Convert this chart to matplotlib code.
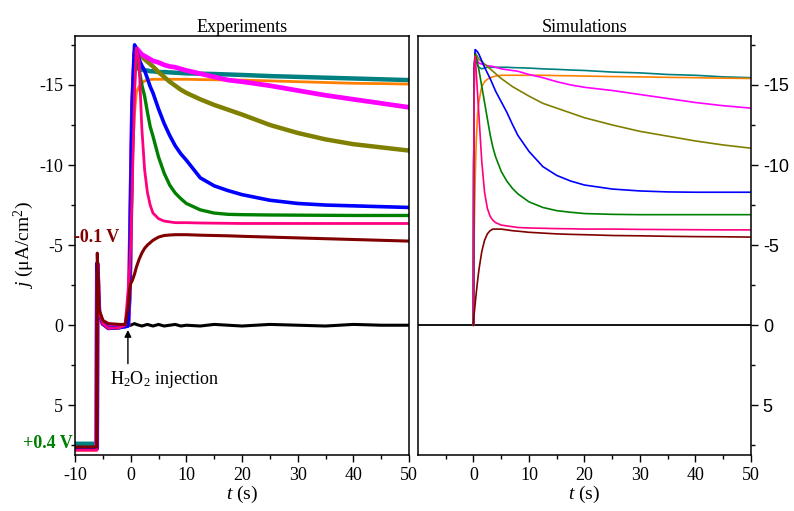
import matplotlib
matplotlib.use("Agg")
import matplotlib.pyplot as plt
from matplotlib.ticker import MultipleLocator, FixedLocator

plt.rcParams['font.family'] = 'Liberation Serif'
plt.rcParams['axes.unicode_minus'] = False
plt.rcParams['mathtext.fontset'] = 'custom'
plt.rcParams['mathtext.rm'] = 'Liberation Serif'
plt.rcParams['mathtext.it'] = 'Liberation Serif:italic'

# Experimentos (tiempo en s, j en uA/cm2)
t_exp = [-10, -6.1, -6.0, -5.7, -5.0, -4.0, -2.0, -1.0, -0.5, -0.2, 0.0, 0.3, 0.7, 1.0, 1.5,
         2, 2.5, 3, 3.5, 4, 5, 6, 7, 8, 9, 10, 12.5, 15, 17.5, 20, 25, 30, 35, 40, 45, 50]
exp_black = [7.7, 7.7, -3.8, -0.8, -0.1, 0.1, 0.05, 0.0, 0.0, 0.0, 0.0, -0.05, -0.1, -0.05, 0.0,
             0.05, 0.0, -0.05, 0.0, 0.05, -0.05, 0.05, 0.0, -0.05, 0.05, 0.0, 0.05, -0.05, 0.0,
             0.05, -0.05, 0.0, 0.05, -0.05, 0.0, 0.0]
exp_teal = [7.4, 7.4, -3.8, -0.8, -0.1, 0.1, 0.05, 0.0, 0.0, -2.0, -6.0, -12.5, -16.3, -16.1,
            -16.0, -15.95, -15.9, -15.9, -15.85, -15.85, -15.8, -15.8, -15.78, -15.76, -15.74,
            -15.72, -15.7, -15.68, -15.65, -15.62, -15.55, -15.5, -15.45, -15.4, -15.35, -15.3]
exp_orange = [7.8, 7.8, -3.8, -0.8, -0.1, 0.1, 0.05, 0.0, 0.0, -2.0, -5.5, -10.5, -13.3, -14.5,
              -14.9, -15.1, -15.25, -15.3, -15.33, -15.35, -15.35, -15.35, -15.35, -15.35, -15.35,
              -15.35, -15.33, -15.32, -15.3, -15.3, -15.25, -15.2, -15.15, -15.1, -15.08, -15.05]
exp_olive = [7.7, 7.7, -3.8, -0.8, -0.1, 0.15, 0.1, 0.0, 0.0, -2.5, -7.0, -13.5, -16.8, -17.0,
             -16.9, -16.75, -16.6, -16.45, -16.3, -16.15, -15.8, -15.5, -15.2, -14.95, -14.7,
             -14.5, -14.1, -13.75, -13.45, -13.15, -12.5, -12.0, -11.6, -11.3, -11.1, -10.9]
exp_magenta = [7.7, 7.7, -3.8, -0.8, -0.1, 0.15, 0.1, 0.0, 0.0, -2.5, -7.0, -13.5, -17.0, -17.3,
               -17.1, -16.9, -16.8, -16.7, -16.6, -16.5, -16.4, -16.25, -16.15, -16.1, -16.0,
               -15.9, -15.7, -15.5, -15.3, -15.2, -14.95, -14.65, -14.35, -14.1, -13.85, -13.6]
exp_green = [7.7, 7.7, -3.8, -0.8, -0.1, 0.2, 0.15, 0.05, 0.0, -2.5, -7.0, -13.5, -17.0, -16.8,
             -16.0, -15.0, -14.3, -13.3, -12.4, -11.8, -10.5, -9.5, -8.75, -8.25, -7.9, -7.6,
             -7.2, -7.0, -6.92, -6.9, -6.88, -6.87, -6.86, -6.85, -6.85, -6.85]
exp_blue = [7.7, 7.7, -3.9, -0.8, -0.1, 0.2, 0.15, 0.1, 0.05, -2.5, -7.5, -14.0, -17.5, -17.2,
            -16.6, -16.2, -15.9, -15.4, -14.9, -14.5, -13.5, -12.6, -11.85, -11.2, -10.7, -10.3,
            -9.2, -8.7, -8.4, -8.15, -7.8, -7.6, -7.5, -7.45, -7.4, -7.35]
exp_pink = [7.8, 7.8, -3.8, -0.8, -0.1, 0.2, 0.15, 0.0, -2.0, -3.5, -5.0, -9.0, -14.5, -17.3,
            -16.5, -12.3, -9.7, -8.3, -7.5, -7.0, -6.65, -6.5, -6.45, -6.4, -6.4, -6.4, -6.38,
            -6.37, -6.36, -6.35, -6.35, -6.35, -6.35, -6.35, -6.35, -6.35]
exp_darkred = [7.6, 7.6, -4.5, -1.0, -0.3, -0.1, -0.05, -0.05, -1.0, -2.2, -2.6, -2.8, -3.2,
               -3.6, -4.1, -4.5, -4.8, -5.0, -5.15, -5.3, -5.5, -5.6, -5.63, -5.65, -5.65, -5.65,
               -5.62, -5.6, -5.58, -5.55, -5.5, -5.45, -5.4, -5.35, -5.3, -5.25]

# Simulaciones
t_sim = [0, 0.05, 0.15, 0.3, 0.5, 0.75, 1, 1.5, 2, 2.5, 3, 3.5, 4, 5, 6, 7, 8, 10, 12.5, 15,
         17.5, 20, 25, 30, 35, 40, 45, 50]
sim_teal = [0, -10, -16, -16.8, -16.5, -16.2, -16.1, -16.0, -16.05, -16.1, -16.1, -16.1, -16.1,
            -16.1, -16.1, -16.08, -16.07, -16.05, -16.0, -15.97, -15.93, -15.9, -15.8, -15.75,
            -15.65, -15.6, -15.5, -15.45]
sim_orange = [0, -2.5, -6.0, -9.0, -11.5, -13.2, -14.0, -14.9, -15.2, -15.35, -15.45, -15.5,
              -15.55, -15.6, -15.6, -15.6, -15.6, -15.6, -15.6, -15.58, -15.57, -15.55, -15.52,
              -15.5, -15.47, -15.45, -15.42, -15.4]
sim_magenta = [0, -10, -16, -16.9, -16.7, -16.5, -16.35, -16.3, -16.25, -16.2, -16.17, -16.15,
               -16.1, -16.0, -15.95, -15.9, -15.85, -15.65, -15.45, -15.2, -15.0, -14.85, -14.65,
               -14.4, -14.15, -13.9, -13.7, -13.55]
sim_olive = [0, -10, -16, -17.0, -16.9, -16.75, -16.6, -16.45, -16.3, -16.15, -16.0, -15.85,
             -15.7, -15.4, -15.15, -14.9, -14.7, -14.3, -13.85, -13.55, -13.25, -12.95, -12.5,
             -12.1, -11.8, -11.5, -11.25, -11.05]
sim_blue = [0, -10, -16, -17.2, -17.15, -17.05, -16.9, -16.5, -16.1, -15.75, -15.4, -15.0, -14.6,
            -13.95, -13.3, -12.55, -11.85, -10.85, -9.9, -9.35, -9.0, -8.75, -8.5, -8.38, -8.32,
            -8.3, -8.3, -8.3]
sim_green = [0, -10, -16, -16.9, -16.7, -16.3, -15.9, -14.9, -13.9, -12.9, -11.9, -11.1, -10.5,
             -9.6, -9.0, -8.55, -8.2, -7.7, -7.35, -7.15, -7.05, -6.97, -6.92, -6.9, -6.9, -6.9,
             -6.9, -6.9]
sim_pink = [0, -10, -16, -16.8, -15.8, -14.4, -13.0, -10.2, -8.3, -7.3, -6.8, -6.55, -6.4, -6.25,
            -6.2, -6.15, -6.1, -6.07, -6.05, -6.03, -6.02, -6.0, -6.0, -5.98, -5.97, -5.96,
            -5.95, -5.95]
sim_darkred = [0, -0.4, -0.8, -1.3, -2.0, -2.8, -3.5, -4.6, -5.3, -5.7, -5.9, -6.0, -6.0, -6.0,
               -5.95, -5.9, -5.87, -5.8, -5.75, -5.7, -5.67, -5.65, -5.6, -5.58, -5.55, -5.53,
               -5.52, -5.5]
t_zero = [-10, 50]
sim_zero = [0, 0]

# Colores
c_teal, c_orange, c_magenta, c_olive = '#008080', '#FF8000', '#FF00FF', '#808000'
c_blue, c_green, c_pink, c_darkred = '#0000FF', '#008000', '#FF0080', '#800000'

fig = plt.figure(figsize=(7.94, 5.11), dpi=100)
ax1 = fig.add_axes([0.0945, 0.1096, 0.4206, 0.8199])
ax2 = fig.add_axes([0.5264, 0.1096, 0.4194, 0.8199])

# Panel experimentos
ax1.plot(t_exp, exp_black, color='black', lw=2.2)
ax1.plot(t_exp, exp_teal, color=c_teal, lw=3.2)
ax1.plot(t_exp, exp_orange, color=c_orange, lw=2.0)
ax1.plot(t_exp, exp_olive, color=c_olive, lw=3.2)
ax1.plot(t_exp, exp_magenta, color=c_magenta, lw=3.4)
ax1.plot(t_exp, exp_green, color=c_green, lw=2.4)
ax1.plot(t_exp, exp_blue, color=c_blue, lw=2.6)
ax1.plot(t_exp, exp_pink, color=c_pink, lw=2.0)
ax1.plot(t_exp, exp_darkred, color=c_darkred, lw=2.2)

# Panel simulaciones
ax2.plot(t_zero, sim_zero, color='black', lw=1.3)
ax2.plot(t_sim, sim_teal, color=c_teal, lw=1.2)
ax2.plot(t_sim, sim_orange, color=c_orange, lw=1.2)
ax2.plot(t_sim, sim_magenta, color=c_magenta, lw=1.2)
ax2.plot(t_sim, sim_olive, color=c_olive, lw=1.2)
ax2.plot(t_sim, sim_blue, color=c_blue, lw=1.2)
ax2.plot(t_sim, sim_green, color=c_green, lw=1.2)
ax2.plot(t_sim, sim_pink, color=c_pink, lw=1.2)
ax2.plot(t_sim, sim_darkred, color=c_darkred, lw=1.2)

for ax in (ax1, ax2):
    ax.set_xlim(-10, 50)
    ax.set_ylim(8.1, -18.05)
    ax.xaxis.set_major_locator(MultipleLocator(10))
    ax.xaxis.set_minor_locator(MultipleLocator(5))
    ax.yaxis.set_major_locator(MultipleLocator(5))
    ax.yaxis.set_minor_locator(MultipleLocator(2.5))
    ax.tick_params(which='major', direction='out', length=5, width=1, labelsize=13)
    ax.tick_params(which='minor', direction='out', length=3, width=1)
    for s in ax.spines.values():
        s.set_linewidth(1.1)
    ax.set_xlabel('$t$ (s)', fontsize=14, labelpad=0)

ax2.xaxis.set_major_locator(FixedLocator([0, 10, 20, 30, 40, 50]))
ax2.xaxis.set_minor_locator(FixedLocator([-5, 5, 15, 25, 35, 45]))

ax1.tick_params(axis='y', which='both', left=True, right=False)
ax2.yaxis.tick_right()
ax2.tick_params(axis='y', which='both', left=False, right=True)
for lab in ax2.get_yticklabels():
    lab.set_family('Liberation Sans')
    lab.set_fontsize(13)

ax1.set_title('Experiments', fontsize=13, pad=3)
ax2.set_title('Simulations', fontsize=13, pad=3)
ax1.set_ylabel('$j$ ($\\mathrm{\\mu}$A/cm$^2$)', fontsize=14, labelpad=2)

ax1.text(-10.2, -5.5, '-0.1 V', color=c_darkred, fontsize=13, fontweight='bold',
         ha='left', va='center')
ax1.text(-10.5, 7.4, '+0.4 V', color=c_green, fontsize=13, fontweight='bold',
         ha='right', va='center', clip_on=False)
ax1.annotate('', xy=(-0.5, 0.3), xytext=(-0.5, 2.4),
             arrowprops=dict(arrowstyle='-|>', color='black', lw=1, shrinkA=0, shrinkB=0,
                             mutation_scale=10))
ax1.text(-3.8, 3.4, 'H$_2$O$_2$ injection', ha='left', va='center', fontsize=13)

fig.savefig('out.png', dpi=100)
